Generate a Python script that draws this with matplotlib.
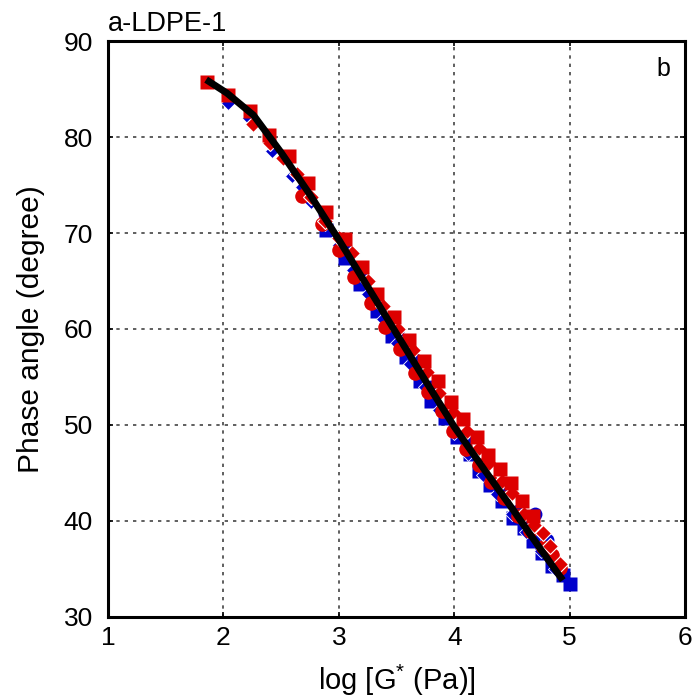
import matplotlib
matplotlib.use("Agg")
import matplotlib.pyplot as plt

plt.rcParams['font.family'] = ['Liberation Sans', 'DejaVu Sans']
plt.rcParams['mathtext.default'] = 'regular'

# master curve
line_x = [1.85, 2.03, 2.26, 2.5, 2.75, 3.0, 3.25, 3.5, 3.75, 4.0, 4.25, 4.5, 4.75, 4.94]
line_y = [86.0, 84.6, 82.3, 78.4, 74.0, 69.3, 64.4, 59.5, 54.6, 49.8, 45.5, 41.3, 37.0, 33.8]

# blue series
bsq_x = [2.89, 3.05, 3.18, 3.33, 3.46, 3.58, 3.70, 3.80, 3.92, 4.02, 4.14, 4.21, 4.31, 4.41,
         4.51, 4.60, 4.68, 4.76, 4.85, 4.94, 5.00]
bsq_y = [70.3, 67.4, 64.7, 61.9, 59.3, 57.1, 54.6, 52.5, 50.7, 48.7, 47.0, 45.2, 43.7, 42.1,
         40.3, 39.2, 37.9, 36.6, 35.3, 34.3, 33.4]
bdi_x = [2.04, 2.22, 2.42, 2.59, 2.68, 2.76, 2.88, 3.0, 3.12, 3.25, 3.38, 3.5, 3.62, 3.75,
         3.87, 4.0, 4.12, 4.25, 4.37, 4.5, 4.62, 4.75, 4.87]
bdi_y = [83.6, 82.0, 78.6, 76.0, 74.8, 73.2, 71.0, 68.8, 66.2, 63.6, 61.0, 58.5, 56.3, 53.9,
         51.6, 49.2, 47.0, 44.8, 42.8, 40.7, 38.8, 36.8, 35.0]
bci_x = [2.88, 3.05, 3.2, 3.35, 3.5, 3.65, 3.8, 3.95, 4.1, 4.25, 4.4, 4.55, 4.70, 4.80]
bci_y = [72.0, 68.6, 65.6, 62.6, 59.8, 56.9, 54.0, 51.2, 48.4, 45.8, 43.4, 41.0, 40.7, 38.0]

# red series
rci_x = [2.68, 2.85, 3.0, 3.13, 3.28, 3.40, 3.53, 3.66, 3.77, 3.89, 3.99, 4.10, 4.21, 4.32,
         4.43, 4.55, 4.66, 4.77, 4.85, 4.92]
rci_y = [73.9, 71.0, 68.2, 65.4, 62.7, 60.2, 57.9, 55.4, 53.4, 51.5, 49.4, 47.5, 45.8, 44.0,
         42.4, 40.5, 38.9, 37.3, 36.4, 35.1]
rdi_x = [2.26, 2.40, 2.52, 2.64, 2.76, 2.88, 3.0, 3.11, 3.25, 3.38, 3.51, 3.64, 3.76, 3.87,
         3.99, 4.11, 4.21, 4.30, 4.41, 4.50, 4.60, 4.69, 4.77, 4.83, 4.92]
rdi_y = [81.4, 79.4, 77.8, 76.2, 73.8, 71.3, 69.5, 67.9, 65.0, 62.4, 60.0, 57.8, 55.5, 53.3,
         51.3, 49.4, 47.6, 46.0, 44.2, 42.9, 40.7, 39.6, 38.7, 37.4, 35.5]
rsq_x = [1.854, 2.037, 2.228, 2.394, 2.568, 2.733, 2.890, 3.056, 3.204, 3.334, 3.474, 3.605,
         3.735, 3.857, 3.970, 4.075, 4.197, 4.293, 4.397, 4.493, 4.589, 4.685]
rsq_y = [85.8, 84.4, 82.7, 80.2, 78.0, 75.2, 72.2, 69.4, 66.5, 63.7, 61.3, 58.9,
         56.7, 54.6, 52.4, 50.6, 48.7, 46.9, 45.4, 43.9, 42.1, 40.5]

x_ticks = [1, 2, 3, 4, 5, 6]
y_ticks = [30, 40, 50, 60, 70, 80, 90]

RED = '#dd0000'
BLUE = '#0000cc'

fig = plt.figure(figsize=(6.97, 7.0), dpi=100)
ax = fig.add_axes([0.155, 0.119, 0.828, 0.822])

ax.plot(bsq_x, bsq_y, 's', color=BLUE, ms=10, mec='none', zorder=3)
ax.plot(bdi_x, bdi_y, 'D', color=BLUE, ms=7, mec='white', mew=0.6, zorder=3)
ax.plot(bci_x, bci_y, 'o', color=BLUE, ms=10, mec='none', zorder=3)
ax.plot(rci_x, rci_y, 'o', color=RED, ms=10.5, mec='none', zorder=4)
ax.plot(rdi_x, rdi_y, 'D', color=RED, ms=8, mec='white', mew=0.8, zorder=4)
ax.plot(rsq_x, rsq_y, 's', color=RED, ms=10.5, mec='none', zorder=4)
ax.plot(line_x, line_y, '-', color='black', lw=5, zorder=5, solid_capstyle='butt')

ax.set_xlim(1, 6)
ax.set_ylim(30, 90)
ax.set_xticks(x_ticks)
ax.set_yticks(y_ticks)
ax.grid(True, color='#444444', linestyle=(0, (2, 3)), linewidth=1.2, zorder=1)
ax.set_axisbelow(True)

for s in ax.spines.values():
    s.set_linewidth(2.2)

ax.tick_params(axis='both', which='both', direction='in', length=3.5, width=1.2,
               top=True, right=True, labelsize=19)
ax.tick_params(axis='x', pad=7)
ax.tick_params(axis='y', pad=11)

ax.set_xlabel('log [G$^{*}$ (Pa)]', fontsize=21, labelpad=9)
ax.set_ylabel('Phase angle (degree)', fontsize=21.5, labelpad=13)

ax.text(0.0, 1.008, 'a-LDPE-1', transform=ax.transAxes, fontsize=19.5,
        ha='left', va='bottom')
ax.text(0.975, 0.972, 'b', transform=ax.transAxes, fontsize=18,
        ha='right', va='top')

fig.savefig('out.png', dpi=100)
